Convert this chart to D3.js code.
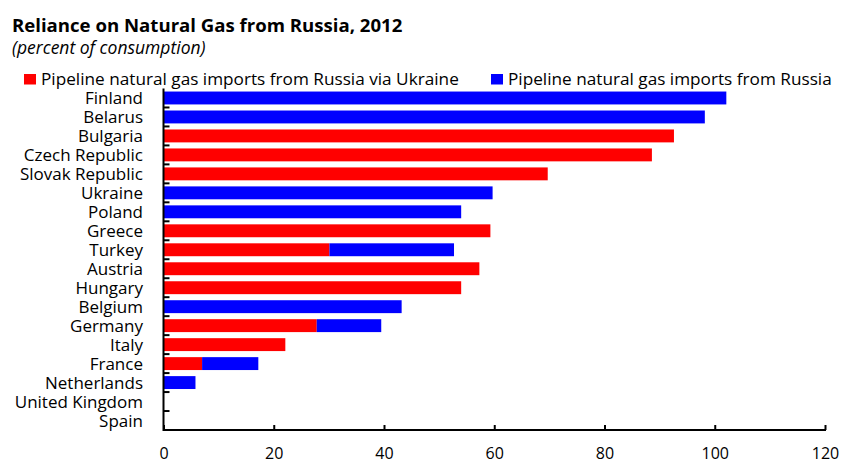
<!DOCTYPE html>
<html>
<head>
<meta charset="utf-8">
<script src="https://cdn.jsdelivr.net/npm/d3@7"></script>
<style>
  body { margin: 0; background: #fff; }
  text { font-family: "Open Sans", "DejaVu Sans", sans-serif; fill: #000; }
</style>
</head>
<body>
<div id="vis"></div>
<script>
// countries, top to bottom
var countries = ["Finland", "Belarus", "Bulgaria", "Czech Republic", "Slovak Republic",
  "Ukraine", "Poland", "Greece", "Turkey", "Austria", "Hungary", "Belgium",
  "Germany", "Italy", "France", "Netherlands", "United Kingdom", "Spain"];

// percent of consumption
var viaUkraine = [0, 0, 92.6, 88.6, 69.7, 0, 0, 59.3, 30.1, 57.3, 54.0, 0, 27.8, 22.1, 7.0, 0, 0, 0];
var otherRoutes = [102.1, 98.2, 0, 0, 0, 59.7, 54.0, 0, 22.6, 0, 0, 43.2, 11.7, 0, 10.2, 5.8, 0, 0];

var xTicks = [0, 20, 40, 60, 80, 100, 120];
var seriesNames = ["Pipeline natural gas imports from Russia via Ukraine",
  "Pipeline natural gas imports from Russia"];
var seriesColors = ["#ff0000", "#0000ff"];

var W = 842, H = 465;
var svg = d3.select("#vis").append("svg").attr("width", W).attr("height", H);
svg.append("rect").attr("width", W).attr("height", H).attr("fill", "#fff");

var x = d3.scaleLinear().domain([0, 120]).range([163.5, 825]);
var y = d3.scaleBand().domain(countries).range([88.5, 430]).paddingInner(0.32).paddingOuter(0.16);

// stacked rows
var rows = countries.map(function(c, i) {
  return {country: c, a: viaUkraine[i], b: otherRoutes[i]};
});

var g = svg.append("g");
g.selectAll("rect.red").data(rows).enter().append("rect")
  .attr("class", "red")
  .attr("x", x(0))
  .attr("y", function(d) { return y(d.country); })
  .attr("width", function(d) { return x(d.a) - x(0); })
  .attr("height", y.bandwidth())
  .attr("fill", seriesColors[0]);

g.selectAll("rect.blue").data(rows).enter().append("rect")
  .attr("class", "blue")
  .attr("x", function(d) { return x(d.a); })
  .attr("y", function(d) { return y(d.country); })
  .attr("width", function(d) { return x(d.a + d.b) - x(d.a); })
  .attr("height", y.bandwidth())
  .attr("fill", seriesColors[1]);

// x axis
var xAxis = d3.axisBottom(x).tickValues(xTicks).tickSize(-5).tickPadding(18).tickFormat(d3.format("d"));
var xg = svg.append("g").attr("transform", "translate(0,430)").call(xAxis);
xg.select(".domain").attr("stroke-width", 2).attr("d", "M" + x(0) + ",0H" + (x(120) + 1));
xg.selectAll(".tick line").attr("stroke-width", 2);
xg.selectAll(".tick text").attr("font-size", 16).style("font-family", "Open Sans");

// y axis: ticks at category boundaries
var step = y.step();
var yl = svg.append("g");
yl.append("line").attr("x1", x(0)).attr("x2", x(0))
  .attr("y1", y.range()[0]).attr("y2", y.range()[1] + 1)
  .attr("stroke", "#000").attr("stroke-width", 2);
yl.selectAll("line.bt").data(countries.slice(1)).enter().append("line")
  .attr("class", "bt")
  .attr("x1", x(0)).attr("x2", x(0) + 6)
  .attr("y1", function(d) { return y(d) - step * y.paddingInner() / 2; })
  .attr("y2", function(d) { return y(d) - step * y.paddingInner() / 2; })
  .attr("stroke", "#000").attr("stroke-width", 2);
yl.selectAll("text").data(countries).enter().append("text")
  .attr("x", 143)
  .attr("y", function(d) { return y(d) + y.bandwidth() / 2; })
  .attr("dy", "0.37em")
  .attr("text-anchor", "end")
  .attr("font-size", 17)
  .text(function(d) { return d; });

// titles
svg.append("text").attr("x", 12).attr("y", 32).attr("font-size", 18.6).attr("font-weight", "bold")
  .text("Reliance on Natural Gas from Russia, 2012");
svg.append("text").attr("x", 12).attr("y", 54).attr("font-size", 17.5).attr("font-style", "italic")
  .text("(percent of consumption)");

// legend
var legX = [24, 491];
var leg = svg.append("g").selectAll("g").data(seriesNames).enter().append("g")
  .attr("transform", function(d, i) { return "translate(" + legX[i] + ",74)"; });
leg.append("rect").attr("width", 12).attr("height", 10.5)
  .attr("fill", function(d, i) { return seriesColors[i]; });
leg.append("text").attr("x", 17).attr("y", 10.5).attr("font-size", 17.2)
  .text(function(d) { return d; });
</script>
</body>
</html>
